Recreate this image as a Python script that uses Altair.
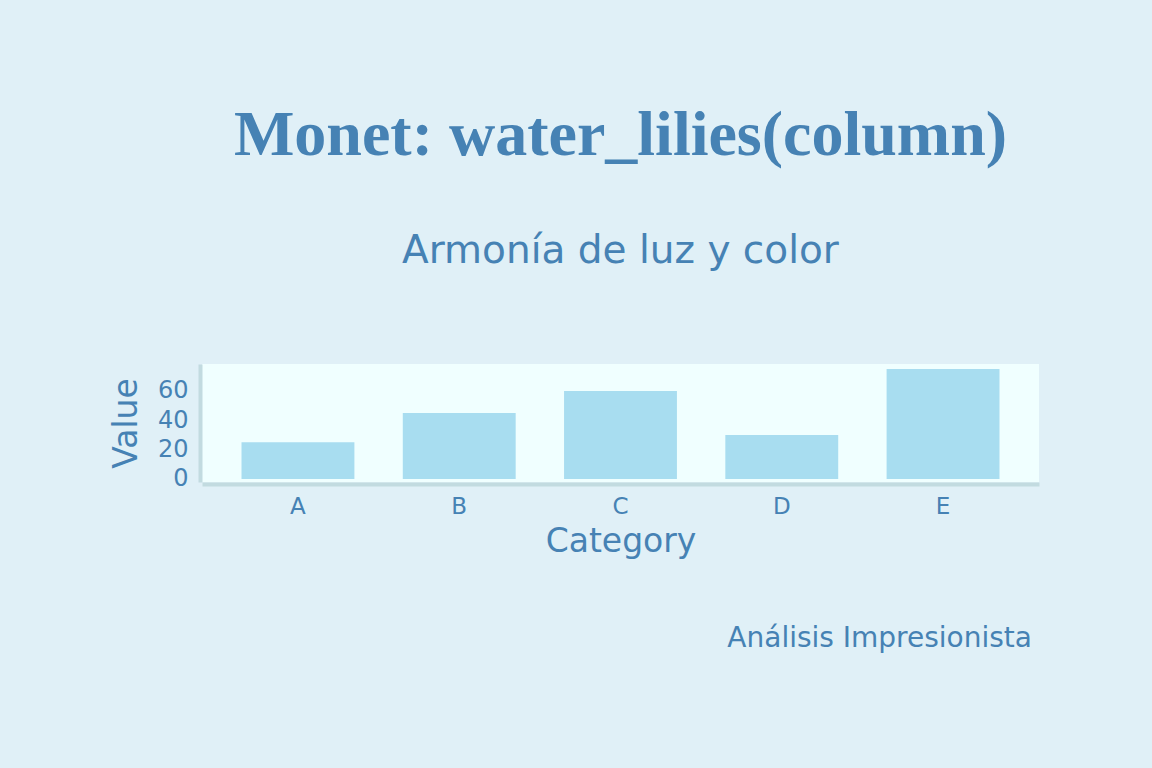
import altair as alt
import pandas as pd

categories = ["A", "B", "C", "D", "E"]
values = [25, 45, 60, 30, 75]
footer = ["Análisis Impresionista"]

TEXT = "#4682b4"
BG = "#e0f0f7"
PLOT_BG = "#f0ffff"
BAR = "#a8ddf0"
DOMAIN = "#c2dbe0"
SANS = "DejaVu Sans"

df = pd.DataFrame({"Category": categories, "Value": values})

bars = alt.Chart(df).mark_bar(color=BAR).encode(
    x=alt.X("Category:N", sort=categories,
            scale=alt.Scale(paddingInner=0.3, paddingOuter=0.245),
            axis=alt.Axis(title="Category", labelAngle=0, ticks=False, grid=False,
                          domainColor=DOMAIN, domainWidth=4, offset=2,
                          labelFont=SANS, labelFontSize=23, labelColor=TEXT,
                          labelPadding=11, titleFont=SANS, titleFontSize=33,
                          titleColor=TEXT, titleFontWeight="normal", titlePadding=7)),
    y=alt.Y("Value:Q", scale=alt.Scale(domain=[-2.05, 78.4], nice=False, zero=False),
            axis=alt.Axis(title="Value", values=[0, 20, 40, 60], ticks=False, grid=False,
                          domainColor=DOMAIN, domainWidth=4, offset=2,
                          labelFont=SANS, labelFontSize=24, labelColor=TEXT,
                          labelPadding=12, titleFont=SANS, titleFontSize=33,
                          titleColor=TEXT, titleFontWeight="normal", titlePadding=14)),
)

foot = alt.Chart(pd.DataFrame({"t": footer})).mark_text(
    align="right", baseline="alphabetic", font=SANS, fontSize=28, color=TEXT
).encode(text="t:N", x=alt.value(830), y=alt.value(283))

chart = alt.layer(bars, foot).properties(
    width=837,
    height=118,
    background=BG,
    padding={"left": 202, "top": 364, "right": 113, "bottom": 286},
    autosize=alt.AutoSizeParams(type="none"),
    title=alt.TitleParams(
        text="Monet: water_lilies(column)",
        subtitle="Armonía de luz y color",
        font="Liberation Serif", fontSize=64, fontWeight="bold", color=TEXT,
        subtitleFont=SANS, subtitleFontSize=39, subtitleColor=TEXT,
        subtitlePadding=64, anchor="middle", offset=93,
    ),
).configure_view(fill=PLOT_BG, stroke=None)

chart.save("out.html", embed_options={"renderer": "svg", "actions": False})
